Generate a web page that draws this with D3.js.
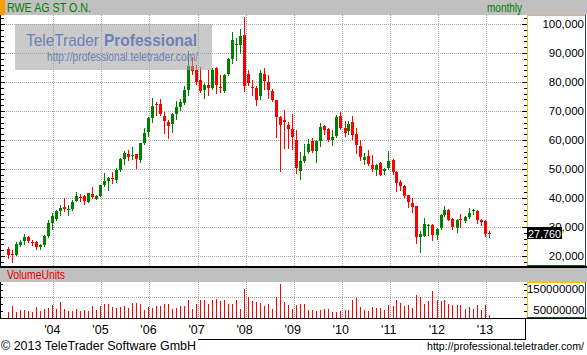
<!DOCTYPE html>
<html><head><meta charset="utf-8">
<script src="https://cdn.jsdelivr.net/npm/d3@7"></script>
<style>
body{margin:0;background:#fff;overflow:hidden;}
svg{display:block;}
text{font-family:"Liberation Sans",Arial,sans-serif;}
</style>
</head><body>
<svg id="c" width="587" height="355"></svg>
<script>
// ---------- DATA ----------
const title = "RWE AG ST O.N.";
const period = "monthly";
const firstMonth = "2003-02-01";   // first candle month (monthly candles)
const open  = [22530,20690,20460,23790,25060,26670,24940,24940,23100,23680,26900,31400,
  32760,35630,36780,36090,36320,39080,40460,40690,38620,41490,39770,40800,
  44370,45750,46780,46320,49540,53500,55170,54710,55060,53100,58850,62640,
  67700,72530,72410,68280,66320,65400,68850,71490,72870,77240,85630,84140,
  80690,77240,78970,77820,84940,78390,76900,82640,87930,92760,92760,96210,
  82800,78390,77930,75060,82870,79890,76780,73680,67930,67010,65290,63910,
  60110,49430,52640,55750,59540,56090,59540,64710,63790,59890,61490,68390,
  64140,62990,66090,62180,58050,53220,54600,51490,49770,52070,49200,50340,
  53220,48970,45400,44250,40920,38280,37130,26550,27010,30230,30800,27360,
  29660,34250,35980,32870,29660,32640,31950,33450,35400,35400,32300,31950,27930];
const high  = [23100,22180,24830,25630,27700,26780,25400,25060,24140,27240,32400,34800,
  35980,37700,40000,37700,39430,41950,41490,40920,41840,43910,41150,44480,
  48620,47130,49080,50340,53790,56090,56550,57470,55170,59000,64020,68050,
  74600,72990,74140,69770,66900,69200,73450,74020,78740,90690,88740,85860,
  85290,79540,84140,84710,85290,82410,82640,88390,97130,95060,98280,102300,
  84100,80800,78740,84250,84830,82530,77590,73910,68390,70460,66090,69080,
  63560,55750,58740,60340,60690,60110,65860,65290,64140,63560,68740,69540,
  66440,66440,68390,64140,59890,55520,56670,54940,51840,52300,50340,56090,
  53450,49200,46320,44600,41150,40000,37360,28740,33100,31150,31150,29660,
  34600,37360,36320,33100,32760,34600,33910,36550,36210,35750,32760,32300,28740];
const low   = [19310,17820,20230,23560,24250,24710,23910,22530,22530,23560,26600,29300,
  32530,34250,35400,34250,35980,38850,38850,37930,38510,40000,39660,40570,
  44250,42640,45060,45520,49430,51720,53100,53330,50230,52530,58510,61490,
  66320,68620,68620,62300,60810,62870,67240,70340,72300,75520,82640,79200,
  76670,74370,75520,77590,76090,76440,76440,82410,86440,87590,89890,77000,
  79000,75630,72180,74140,77590,74480,73330,61030,49200,57240,57240,56900,
  48620,46550,52400,55520,55750,52300,57820,62180,59540,58390,61030,63790,
  61490,62180,60340,55520,53220,51840,51490,49430,47820,47820,48280,50100,
  48390,42300,42870,40340,36900,35060,24480,21260,26780,27360,25630,25860,
  29310,33910,32300,29430,28160,29890,31610,33100,34600,31380,30800,27010,26550];
const close = [20460,20460,24140,24940,26440,25290,24600,22990,23910,26900,31400,33800,
  35630,36550,36320,36320,38740,40690,40230,38850,41610,40340,40690,44370,
  45860,46780,46550,49770,53560,55400,54250,54940,53330,58850,62530,67700,
  71840,71950,68850,66550,64940,68850,71490,72990,77240,85630,83790,80110,
  76900,78970,77820,84140,78970,78160,82410,87930,94480,93100,95860,78500,
  79600,78160,73910,83100,80230,77130,73910,67930,65290,66090,63910,61030,
  50340,52870,54600,58740,56090,59540,64480,63560,59890,61030,67930,64140,
  62410,65630,61840,58390,54020,54140,51840,49890,51490,48050,50000,52640,
  48970,45170,44250,40570,38510,36780,26440,27700,31030,30800,27360,29310,
  34250,35980,32530,29890,32300,32410,33450,34830,35750,32300,31610,27700,27760];
const volume = [30.6e6,58e6,30.6e6,38.7e6,38.7e6,33.9e6,30.6e6,53.2e6,33.9e6,43.5e6,46.8e6,62.9e6,
  43.5e6,77.4e6,43.5e6,33.9e6,33.9e6,43.5e6,33.9e6,38.7e6,33.9e6,58e6,38.7e6,58e6,
  67.7e6,67.7e6,51.6e6,46.8e6,53.2e6,58e6,50e6,72.6e6,72.6e6,67.7e6,38.7e6,53.2e6,
  50e6,58e6,58e6,67.7e6,67.7e6,43.5e6,50e6,58e6,58e6,87.1e6,43.5e6,67.7e6,
  87.1e6,87.1e6,67.7e6,87.1e6,91.9e6,80.6e6,87.1e6,67.7e6,67.7e6,87.1e6,43.5e6,138.7e6,
  101.6e6,80.6e6,77.4e6,72.6e6,58e6,67.7e6,43.5e6,101.6e6,164.5e6,77.4e6,62.9e6,43.5e6,
  62.9e6,67.7e6,67.7e6,38.7e6,38.7e6,33.9e6,38.7e6,43.5e6,43.5e6,29e6,29e6,33.9e6,
  38.7e6,38.7e6,87.1e6,96.8e6,53.2e6,38.7e6,33.9e6,53.2e6,48.4e6,48.4e6,38.7e6,62.9e6,
  58e6,87.1e6,72.6e6,58e6,62.9e6,48.4e6,111.3e6,101.6e6,67.7e6,82.3e6,130.6e6,87.1e6,
  82.3e6,87.1e6,67.7e6,62.9e6,62.9e6,62.9e6,43.5e6,53.2e6,43.5e6,62.9e6,38.7e6,62.9e6,14.5e6];
const priceTicks  = [20000,30000,40000,50000,60000,70000,80000,90000,100000];
const volumeTicks = [50000000,150000000];
const yearTicks   = [2004,2005,2006,2007,2008,2009,2010,2011,2012,2013];
const yearLabels  = ["'04","'05","'06","'07","'08","'09","'10","'11","'12","'13"];

// ---------- LAYOUT ----------
const W = 587, H = 355;
const plotL = 0, plotR = 527, axisR = 585;
const mainT = 15, mainB = 266;
const volT = 282, volB = 318;
const GREEN = "#008000", RED = "#ff0000", GRID = "#a8a8a8";
const YEL = "#f2c200", BLUE = "#1c3a9a", HDR = "#c0c0c0";

const svg = d3.select("#c");
svg.append("rect").attr("width",W).attr("height",H).attr("fill","#fff");

const months = d3.timeMonth.range(new Date(firstMonth+"T00:00:00"), d3.timeMonth.offset(new Date(firstMonth+"T00:00:00"), open.length));
const data = months.map((m,i)=>({m, o:open[i], h:high[i], l:low[i], c:close[i], v:volume[i]}));

const x = d3.scaleTime().domain([new Date(2004,0,1), new Date(2013,0,1)]).range([53.3, 486]);
const cxOf = d => Math.round(x(d3.timeDay.offset(d.m, -10)));
const y = d3.scaleLinear().domain([20000,100000]).range([256,24]);
const yv = d3.scaleLinear().domain([0,150000000]).range([volB, 287]);

// ---------- HEADER ----------
svg.append("rect").attr("x",0).attr("y",0).attr("width",W).attr("height",mainT).attr("fill",HDR);
svg.append("rect").attr("x",0).attr("y",0).attr("width",5).attr("height",mainT).attr("fill","#ff9a00");
svg.append("text").attr("x",7).attr("y",12).attr("font-size",12).attr("fill",GREEN)
  .attr("textLength",84).attr("lengthAdjust","spacingAndGlyphs").text(title);
svg.append("text").attr("x",487).attr("y",11.5).attr("font-size",12).attr("fill",GREEN)
  .attr("textLength",35).attr("lengthAdjust","spacingAndGlyphs").text(period);

// ---------- MAIN PANEL ----------
const main = svg.append("g").attr("shape-rendering","crispEdges");
main.selectAll(".hg").data(priceTicks).join("line")
  .attr("x1",plotL).attr("x2",plotR)
  .attr("y1",d=>Math.round(y(d))+0.5).attr("y2",d=>Math.round(y(d))+0.5)
  .attr("stroke",GRID).attr("stroke-dasharray","1,1");
yearTicks.forEach(yr=>{
  const gx = Math.round(x(new Date(yr,0,1)))+0.5;
  main.append("line").attr("x1",gx).attr("x2",gx).attr("y1",mainT).attr("y2",mainB)
    .attr("stroke",GRID).attr("stroke-dasharray","1,1");
  main.append("line").attr("x1",gx).attr("x2",gx).attr("y1",volT).attr("y2",volB)
    .attr("stroke",GRID).attr("stroke-dasharray","1,1");
});

// candles
svg.append("clipPath").attr("id","mclip").append("rect")
  .attr("x",plotL).attr("y",mainT).attr("width",plotR-plotL).attr("height",mainB-mainT);
const cg = svg.append("g").attr("clip-path","url(#mclip)").attr("shape-rendering","crispEdges");
const cand = cg.selectAll("g.c").data(data).join("g");
cand.append("line")
  .attr("x1",d=>cxOf(d)+0.5).attr("x2",d=>cxOf(d)+0.5)
  .attr("y1",d=>Math.round(y(d.h))).attr("y2",d=>Math.round(y(d.l))+1)
  .attr("stroke",d=>d.c>=d.o?GREEN:RED);
cand.append("rect")
  .attr("x",d=>cxOf(d)-1).attr("width",3)
  .attr("y",d=>Math.round(y(Math.max(d.o,d.c))))
  .attr("height",d=>Math.max(1, Math.round(y(Math.min(d.o,d.c))) - Math.round(y(Math.max(d.o,d.c)))))
  .attr("fill",d=>d.c>=d.o?GREEN:RED);

// watermark
const wm = svg.append("g");
wm.append("rect").attr("x",15).attr("y",24).attr("width",197).attr("height",46)
  .attr("fill","#9e9e9e").attr("opacity",0.55);
wm.append("text").attr("x",26).attr("y",45.5).attr("font-size",17).attr("fill","#6f80b6")
  .attr("textLength",73).attr("lengthAdjust","spacingAndGlyphs").text("TeleTrader");
wm.append("text").attr("x",104).attr("y",45.5).attr("font-size",17).attr("font-weight","bold").attr("fill","#6f80b6")
  .attr("textLength",93).attr("lengthAdjust","spacingAndGlyphs").text("Professional");
wm.append("text").attr("x",47).attr("y",61).attr("font-size",12).attr("fill","#6f80b6")
  .attr("textLength",151).attr("lengthAdjust","spacingAndGlyphs").text("http://professional.teletrader.com/");

// left ticks (main)
const minorP = d3.range(18000, 104000, 2000);
const lt = svg.append("g").attr("shape-rendering","crispEdges");
lt.append("line").attr("x1",0.5).attr("x2",0.5).attr("y1",mainT).attr("y2",mainB).attr("stroke","#000");
lt.selectAll(".lt").data(minorP).join("line")
  .attr("x1",0).attr("x2",d=>d%10000===0?5:4)
  .attr("y1",d=>Math.round(y(d))+0.5).attr("y2",d=>Math.round(y(d))+0.5).attr("stroke","#000");

// right axis box (main)
const ra = svg.append("g").attr("shape-rendering","crispEdges");
ra.append("rect").attr("x",plotR).attr("y",mainT).attr("width",axisR-plotR).attr("height",mainB-1-mainT).attr("fill","#fff");
ra.selectAll(".rt").data(minorP).join("line")
  .attr("x1",d=>plotR-(d%10000===0?5:3)).attr("x2",plotR)
  .attr("y1",d=>Math.round(y(d))+0.5).attr("y2",d=>Math.round(y(d))+0.5).attr("stroke","#000");
ra.append("line").attr("x1",plotR+0.5).attr("x2",plotR+0.5).attr("y1",mainT).attr("y2",mainB-1).attr("stroke",YEL);
ra.append("line").attr("x1",plotR).attr("x2",axisR).attr("y1",mainT+0.5).attr("y2",mainT+0.5).attr("stroke",YEL);
ra.append("line").attr("x1",axisR+0.5).attr("x2",axisR+0.5).attr("y1",mainT).attr("y2",mainB).attr("stroke",BLUE);
ra.append("line").attr("x1",plotR).attr("x2",axisR+1).attr("y1",mainB-0.5).attr("y2",mainB-0.5).attr("stroke",BLUE);
const fmt = d3.format(",");
const last = data[data.length-1];
ra.selectAll(".rl").data(priceTicks).join("text")
  .attr("x",584).attr("y",d=>y(d)).attr("dy","0.36em").attr("text-anchor","end")
  .attr("font-size",11.5).attr("fill","#000").text(d=>fmt(d));

// last price label (covers part of the 30,000 label, as in the reference)
ra.append("rect").attr("x",plotR).attr("y",Math.round(y(last.c))-6).attr("width",35).attr("height",12).attr("fill","#000");
ra.append("text").attr("x",528).attr("y",y(last.c)).attr("dy","0.36em").attr("font-size",11.5).attr("fill","#fff")
  .attr("textLength",33).attr("lengthAdjust","spacingAndGlyphs").text(fmt(last.c));

// separator
svg.append("rect").attr("x",0).attr("y",mainB).attr("width",W).attr("height",2).attr("fill","#000");
// volume header
svg.append("rect").attr("x",0).attr("y",mainB+2).attr("width",W).attr("height",volT-mainB-2).attr("fill",HDR);
svg.append("text").attr("x",7).attr("y",278.5).attr("font-size",12).attr("fill","#e00000")
  .attr("textLength",58).attr("lengthAdjust","spacingAndGlyphs").text("VolumeUnits");

// ---------- VOLUME PANEL ----------
const vg = svg.append("g").attr("shape-rendering","crispEdges");
vg.append("line").attr("x1",plotL).attr("x2",plotR)
  .attr("y1",Math.round(yv(100000000))+0.5).attr("y2",Math.round(yv(100000000))+0.5)
  .attr("stroke",GRID).attr("stroke-dasharray","1,1");
vg.selectAll(".vb").data(data).join("rect")
  .attr("x",d=>cxOf(d)).attr("width",1)
  .attr("y",d=>Math.round(yv(d.v))).attr("height",d=>volB-Math.round(yv(d.v)))
  .attr("fill",RED);
const minorV = d3.range(0, 170e6, 100e6/3).filter(v=>yv(v)>volT && yv(v)<volB);
vg.append("line").attr("x1",0.5).attr("x2",0.5).attr("y1",volT).attr("y2",volB).attr("stroke","#000");
vg.selectAll(".vlt").data(minorV).join("line")
  .attr("x1",0).attr("x2",3).attr("y1",d=>Math.round(yv(d))+0.5).attr("y2",d=>Math.round(yv(d))+0.5).attr("stroke","#000");
vg.append("rect").attr("x",plotR).attr("y",volT).attr("width",axisR-plotR).attr("height",volB-volT).attr("fill","#fff");
vg.selectAll(".vrt").data(minorV).join("line")
  .attr("x1",plotR-3).attr("x2",plotR).attr("y1",d=>Math.round(yv(d))+0.5).attr("y2",d=>Math.round(yv(d))+0.5).attr("stroke","#000");
vg.append("line").attr("x1",plotR+0.5).attr("x2",plotR+0.5).attr("y1",volT).attr("y2",volB).attr("stroke",YEL);
vg.append("line").attr("x1",plotR).attr("x2",axisR).attr("y1",volT+0.5).attr("y2",volT+0.5).attr("stroke",YEL);
vg.append("line").attr("x1",axisR+0.5).attr("x2",axisR+0.5).attr("y1",volT).attr("y2",volB).attr("stroke",BLUE);
vg.append("line").attr("x1",plotR).attr("x2",axisR+1).attr("y1",volB-0.5).attr("y2",volB-0.5).attr("stroke",BLUE);
vg.selectAll(".vl").data(volumeTicks).join("text")
  .attr("x",584.5).attr("y",d=>yv(d)+2).attr("dy","0.36em").attr("text-anchor","end")
  .attr("font-size",11.5).attr("fill","#000").text(d=>d);
svg.append("rect").attr("x",0).attr("y",volB).attr("width",W).attr("height",1).attr("fill","#000");

// ---------- DATE AXIS ----------
const xa = svg.append("g");
xa.selectAll(".yl").data(yearTicks).join("text")
  .attr("x",(d)=>x(new Date(d,0,1))-1).attr("y",334).attr("text-anchor","middle")
  .attr("font-size",12.5).attr("fill","#000").text((d,i)=>yearLabels[i]);
const bl = svg.append("g").attr("shape-rendering","crispEdges");
bl.append("line").attr("x1",198).attr("x2",526).attr("y1",339.5).attr("y2",339.5).attr("stroke","#000");
bl.append("line").attr("x1",525.5).attr("x2",525.5).attr("y1",volB).attr("y2",340).attr("stroke","#000");

// ---------- FOOTER ----------
svg.append("text").attr("x",1).attr("y",349.5).attr("font-size",12).attr("fill","#000")
  .attr("textLength",195).attr("lengthAdjust","spacingAndGlyphs").text("© 2013 TeleTrader Software GmbH");
svg.append("text").attr("x",584).attr("y",349.5).attr("text-anchor","end").attr("font-size",11.5).attr("fill","#000")
  .attr("textLength",157).attr("lengthAdjust","spacingAndGlyphs").text("http://professional.teletrader.com/");
</script>
</body></html>
